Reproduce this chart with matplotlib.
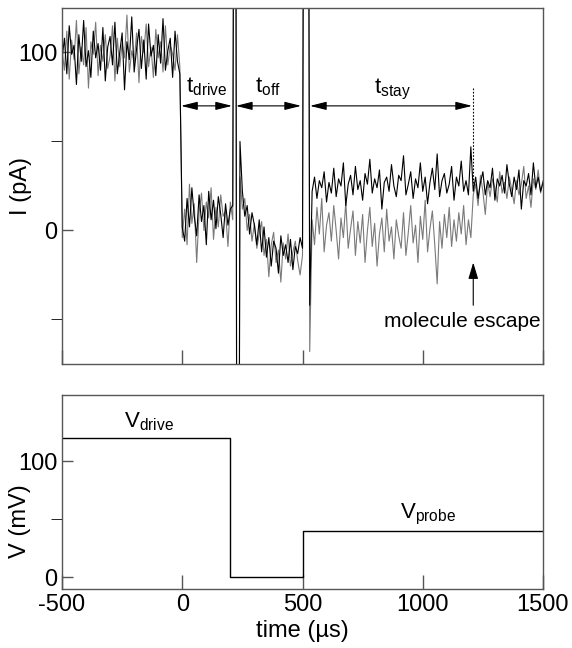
import numpy as np
import matplotlib
matplotlib.use("Agg")
import matplotlib.pyplot as plt

plt.rcParams['font.family'] = ['Liberation Sans', 'DejaVu Sans']
plt.rcParams['mathtext.fontset'] = 'custom'
plt.rcParams['mathtext.rm'] = 'Liberation Sans'
plt.rcParams['mathtext.it'] = 'Liberation Sans'
plt.rcParams['axes.unicode_minus'] = False

# sampling of the current traces (µs)
t_start, t_step = -500, 10

# current trace values (pA), segment by segment
drive_black = [96, 108, 88, 115, 99, 104, 82, 110, 95, 118, 92, 101, 86, 112, 97, 105, 90, 114, 84, 103,
               109, 93, 117, 88, 100, 111, 79, 106, 96, 120, 89, 102, 113, 91, 107, 85, 116, 98, 104, 87,
               110, 94, 119, 90, 101, 108, 86, 112, 95, 88, 2]
drive_gray = [102, 90, 112, 85, 107, 96, 118, 88, 103, 93, 114, 80, 106, 99, 117, 87, 104, 95, 110, 91,
              98, 115, 84, 108, 92, 105, 97, 121, 89, 101, 94, 111, 83, 109, 100, 116, 92, 103, 86, 113,
              97, 106, 89, 115, 93, 104, 99, 90, 110, 92, -4]
blocked_black = [-6, 18, 2, 24, 8, -3, 20, 5, 14, -8, 22, 6, 17, 1, 19, 9, -4, 15, 3, 12, 14]
blocked_gray = [12, -8, 26, 4, 15, -18, 10, 21, 0, 16, 7, 24, -5, 13, 2, 20, 8, 11, -9, 16, 6]
off_black = [500, -500, 50,
             22, 8, 14, -2, 10, 3, -8, 6, -12, 2, -15, -4, -20, -6, -10, -24, -3, -14, -8, -18,
             -5, -22, -9, -13, -4, -10]
off_gray = [500, -500, 30,
            12, 18, 0, 9, -6, 4, -10, -2, 5, -14, -5, -26, -8, -1, -18, -11, -29, -7, -16, -2,
            -20, -12, -6, -17, -25, -14]
stay_black = [500, 500, -42,
              22, 30, 18, 28, 24, 33, 16, 27, 21, 35, 19, 29, 25, 38, 14, 26, 31, 20, 36, 23,
              28, 17, 32, 26, 40, 21, 29, 24, 34, 12, 27, 30, 22, 37, 25, 19, 31, 28, 42, 20,
              26, 33, 18, 29, 24, 38, 22, 30, 15, 27, 35, 23, 43, 19, 28, 32, 21, 26, 36, 17,
              30, 25, 39, 22, 28, 20, 47]
stay_gray = [500, 500, -68,
             6, -8, 13, -2, 18, -12, 3, 10, -6, 14, 0, -16, 7, -4, 16, -10, 1, 11, -14, 5,
             -7, 9, -18, 0, 13, -9, 4, -20, -2, 7, -12, 12, -6, 2, -16, 6, -3, -10, 10, -14,
             -1, 14, -7, 3, -18, 8, -5, 17, -12, 1, 11, -8, -30, 5, -10, 9, -4, 13, -9, 6,
             -6, 10, -2, 14, -8, 6, -4]
escaped_black = [22, 30, 18, 27, 33, 20, 28, 24, 35, 17, 29, 25, 31, 21, 37, 26, 19, 30, 23, 34,
                 12, 28, 25, 32, 20, 38, 24, 30, 22, 27]
escaped_gray = [20, 26, 14, 31, 22, 9, 27, 19, 29, 24, 16, 33, 21, 27, 18, 30, 23, 15, 28, 20,
                26, 36, 18, 25, 13, 29, 23, 34, 21, 28]

# voltage protocol (mV)
v_times = [-500, 200, 500, 1500]
v_levels = [120, 0, 40, 40]

# event times (µs)
t_drive_on, t_drive_off, t_probe_on, t_escape = 0, 205, 500, 1210

i_black = np.array(drive_black + blocked_black + off_black + stay_black + escaped_black, dtype=float)
i_gray = np.array(drive_gray + blocked_gray + off_gray + stay_gray + escaped_gray, dtype=float)
t = t_start + t_step * np.arange(len(i_black))

fig = plt.figure(figsize=(5.72, 6.48), dpi=100)
ax1 = fig.add_axes([0.1084, 0.4383, 0.8409, 0.5494])
ax2 = fig.add_axes([0.1084, 0.0910, 0.8409, 0.2994])

frame = '#555555'
for ax in (ax1, ax2):
    for s in ax.spines.values():
        s.set_color(frame)
        s.set_linewidth(1.0)
    ax.tick_params(direction='in', colors=frame, labelcolor='black', labelsize=17, width=1.0)
    ax.tick_params(axis='x', length=10)
    ax.tick_params(axis='y', which='both', length=8)
    ax.set_xlim(-500, 1500)
    ax.set_xticks([-500, 0, 500, 1000, 1500])

# top panel: current
ax1.plot(t, i_gray, color='#7a7a7a', lw=0.8)
ax1.plot(t, i_black, color='black', lw=0.8)
ax1.set_ylim(-75, 125)
ax1.set_yticks([0, 100])
ax1.set_yticks([-50, 50], minor=True)
ax1.tick_params(axis='x', labelbottom=False)
ax1.set_ylabel('I (pA)', fontsize=17)
ax1.yaxis.set_label_coords(-0.062, 0.5)

arrow = dict(arrowstyle='<|-|>,head_length=1.0,head_width=0.25', color='black', lw=0.8,
             shrinkA=0, shrinkB=0, mutation_scale=10)
y_arr = 70
ax1.annotate('', xy=(t_drive_on - 5, y_arr), xytext=(t_drive_off + 2, y_arr), arrowprops=arrow)
ax1.annotate('', xy=(t_drive_off + 18, y_arr), xytext=(t_probe_on - 6, y_arr), arrowprops=arrow)
ax1.annotate('', xy=(t_probe_on + 31, y_arr), xytext=(t_escape - 5, y_arr), arrowprops=arrow)
ax1.text(103, 81, r'$\mathregular{t_{drive}}$', fontsize=16, ha='center', va='center')
ax1.text(357, 81, r'$\mathregular{t_{off}}$', fontsize=16, ha='center', va='center')
ax1.text(872, 79, r'$\mathregular{t_{stay}}$', fontsize=16, ha='center', va='center')
ax1.plot([t_escape, t_escape], [80, 24], color='black', lw=0.8, ls=(0, (1.5, 1.5)))
ax1.annotate('', xy=(t_escape, -18), xytext=(t_escape, -42),
             arrowprops=dict(arrowstyle='-|>,head_length=1.0,head_width=0.3', color='black',
                             lw=0.8, shrinkA=0, shrinkB=0, mutation_scale=10))
ax1.text(1163, -51, 'molecule escape', fontsize=15, ha='center', va='center')

# bottom panel: voltage
ax2.plot(v_times, v_levels, drawstyle='steps-post', color='black', lw=1.0)
ax2.set_ylim(-10, 157)
ax2.set_yticks([0, 100])
ax2.set_yticks([50], minor=True)
ax2.set_ylabel('V (mV)', fontsize=17)
ax2.yaxis.set_label_coords(-0.064, 0.35)
ax2.set_xlabel('time (µs)', fontsize=17)
ax2.xaxis.set_label_coords(0.5, -0.16)
ax2.text(-140, 124, r'$\mathregular{V_{drive}}$', fontsize=16, ha='center', va='bottom')
ax2.text(1020, 43, r'$\mathregular{V_{probe}}$', fontsize=16, ha='center', va='bottom')

fig.savefig('out.png', dpi=100)
